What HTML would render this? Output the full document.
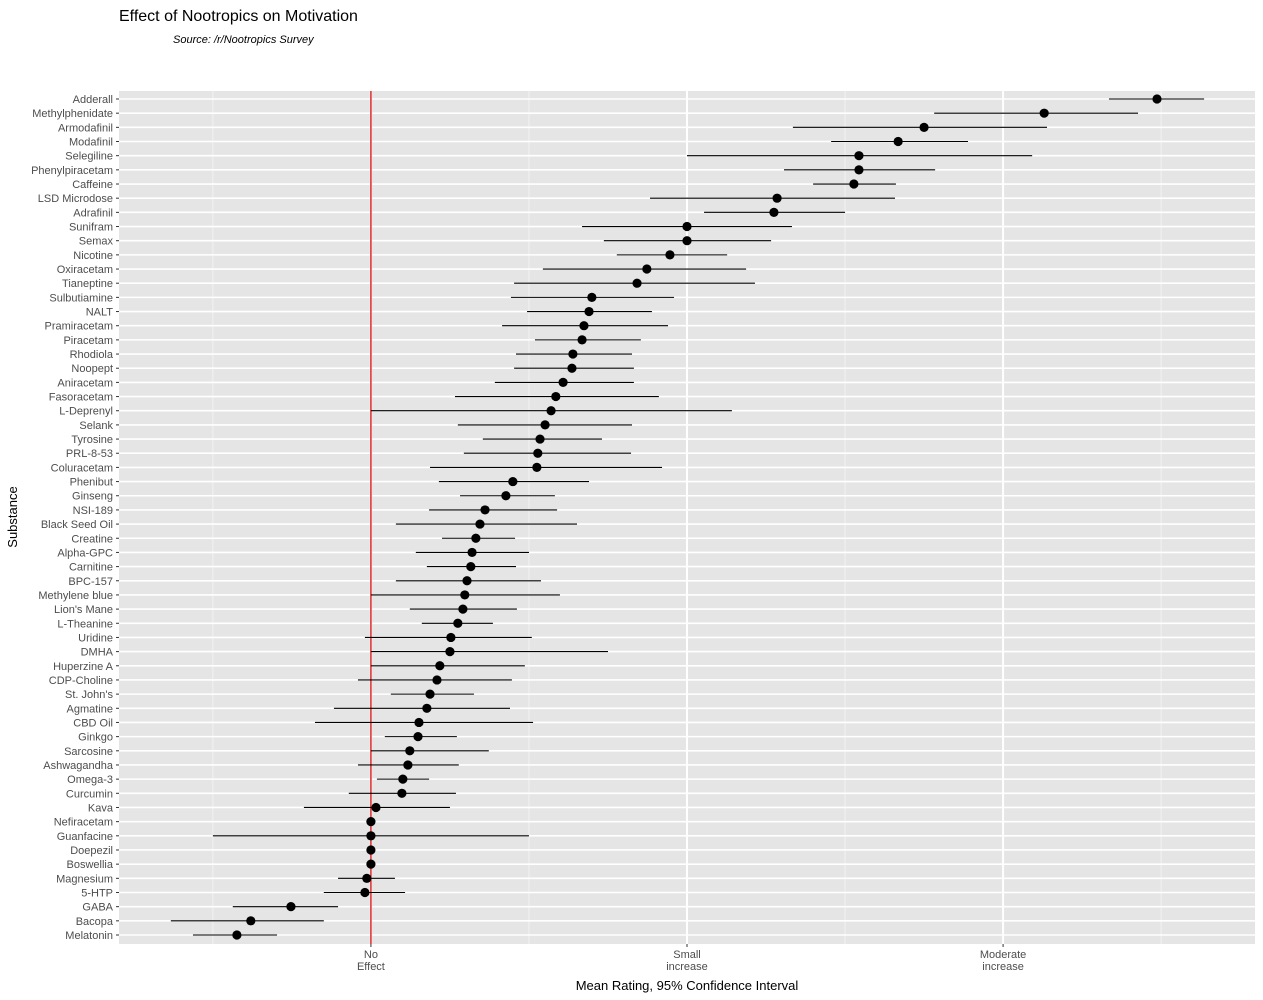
<!DOCTYPE html>
<html><head><meta charset="utf-8"><style>
html,body{margin:0;padding:0;background:#fff;}
svg{display:block;font-family:"Liberation Sans",Arial,sans-serif;}
</style></head><body>
<svg id="chart" width="1263" height="1000" viewBox="0 0 1263 1000">
<text x="119" y="21" font-size="16" fill="#000">Effect of Nootropics on Motivation</text>
<text x="173" y="43" font-size="11" font-style="italic" fill="#000">Source: /r/Nootropics Survey</text>
<rect x="119" y="91" width="1136" height="853" fill="#e5e5e5"/>
<g id="grid"></g>
<g id="marks"></g>
<g id="yaxis"></g>
<g id="xaxis"></g>
<text x="0" y="0" font-size="13" text-anchor="middle" transform="translate(17,517) rotate(-90)">Substance</text>
<text x="687" y="990" font-size="13" text-anchor="middle">Mean Rating, 95% Confidence Interval</text>
</svg>
<script>
const substances = ["Adderall","Methylphenidate","Armodafinil","Modafinil","Selegiline","Phenylpiracetam","Caffeine","LSD Microdose","Adrafinil","Sunifram","Semax","Nicotine","Oxiracetam","Tianeptine","Sulbutiamine","NALT","Pramiracetam","Piracetam","Rhodiola","Noopept","Aniracetam","Fasoracetam","L-Deprenyl","Selank","Tyrosine","PRL-8-53","Coluracetam","Phenibut","Ginseng","NSI-189","Black Seed Oil","Creatine","Alpha-GPC","Carnitine","BPC-157","Methylene blue","Lion's Mane","L-Theanine","Uridine","DMHA","Huperzine A","CDP-Choline","St. John's","Agmatine","CBD Oil","Ginkgo","Sarcosine","Ashwagandha","Omega-3","Curcumin","Kava","Nefiracetam","Guanfacine","Doepezil","Boswellia","Magnesium","5-HTP","GABA","Bacopa","Melatonin"];
const means = [2.487,2.130,1.750,1.668,1.544,1.544,1.528,1.285,1.275,1.0,1.0,0.946,0.873,0.842,0.699,0.690,0.674,0.668,0.639,0.636,0.608,0.585,0.570,0.551,0.535,0.528,0.525,0.449,0.427,0.361,0.345,0.332,0.320,0.316,0.304,0.297,0.291,0.275,0.253,0.25,0.218,0.209,0.187,0.177,0.152,0.149,0.123,0.117,0.101,0.098,0.016,0,0,0,0,-0.013,-0.019,-0.253,-0.380,-0.424];
const lowers = [2.335,1.782,1.335,1.456,1.0,1.307,1.399,0.883,1.054,0.668,0.737,0.778,0.544,0.453,0.443,0.494,0.415,0.519,0.459,0.453,0.392,0.266,0,0.275,0.354,0.294,0.187,0.215,0.282,0.184,0.079,0.225,0.142,0.177,0.079,0,0.123,0.161,-0.019,0,0,-0.041,0.063,-0.117,-0.177,0.044,0,-0.041,0.019,-0.070,-0.212,0,-0.5,0,0,-0.104,-0.149,-0.437,-0.633,-0.563];
const uppers = [2.636,2.427,2.139,1.889,2.092,1.785,1.661,1.658,1.5,1.332,1.266,1.127,1.187,1.215,0.959,0.889,0.940,0.854,0.826,0.832,0.832,0.911,1.142,0.826,0.731,0.823,0.921,0.690,0.582,0.589,0.652,0.456,0.5,0.459,0.538,0.598,0.462,0.386,0.509,0.75,0.487,0.446,0.326,0.440,0.513,0.272,0.373,0.278,0.184,0.269,0.25,0,0.5,0,0,0.076,0.108,-0.104,-0.149,-0.297];
const xTickValues = [0,1,2];
const xTickLabels = [["No","Effect"],["Small","increase"],["Moderate","increase"]];
const xMinorValues = [-0.5,0.5,1.5,2.5];

const NS="http://www.w3.org/2000/svg";
const PL=119, PR=1255, PT=91, PB=944;
const xMin=-0.797, xMax=2.797;
function xs(v){return PL+(v-xMin)/(xMax-xMin)*(PR-PL);}
const yTop=99, yBot=935;
function ys(i){return yTop+i*(yBot-yTop)/(substances.length-1);}
function mk(tag,attrs,parent){const e=document.createElementNS(NS,tag);for(const k in attrs)e.setAttribute(k,attrs[k]);parent.appendChild(e);return e;}
const grid=document.getElementById('grid'), marks=document.getElementById('marks'), yax=document.getElementById('yaxis'), xax=document.getElementById('xaxis');

xMinorValues.forEach(v=>{
  const l=mk('line',{x1:xs(v),x2:xs(v),y1:PT,y2:PB,stroke:'#f2f2f2','stroke-width':1},grid);
  
  
});
xTickValues.forEach(v=>{
  const l=mk('line',{x1:xs(v),x2:xs(v),y1:PT,y2:PB,stroke:'#fff','stroke-width':2},grid);
  
  
});
substances.forEach((s,i)=>{
  const l=mk('line',{x1:PL,x2:PR,y1:ys(i),y2:ys(i),stroke:'#fff','stroke-width':1.6},grid);
  
  
});
const zero=mk('line',{x1:xs(0),x2:xs(0),y1:PT,y2:PB,stroke:'#d7191c','stroke-width':1.4},grid);



substances.forEach((s,i)=>{
  const y=ys(i);
  const ci=mk('line',{x1:xs(lowers[i]),x2:xs(uppers[i]),y1:y,y2:y,stroke:'#000','stroke-width':1.1},marks);
  
  
  const p=mk('circle',{cx:xs(means[i]),cy:y,r:4.6,fill:'#000'},marks);
  
  
  const t=mk('line',{x1:PL-3,x2:PL,y1:y,y2:y,stroke:'#333','stroke-width':1},yax);
  
  
  const lab=mk('text',{x:PL-6,y:y+4,'font-size':11,'text-anchor':'end',fill:'#4d4d4d'},yax);
  lab.textContent=s;
  
  
});
xTickValues.forEach((v,i)=>{
  const t=mk('line',{x1:xs(v),x2:xs(v),y1:PB,y2:PB+3,stroke:'#333','stroke-width':1},xax);
  
  
  xTickLabels[i].forEach((str,j)=>{
    const lab=mk('text',{x:xs(v),y:PB+14+j*12,'font-size':11,'text-anchor':'middle',fill:'#4d4d4d'},xax);
    lab.textContent=str;
    
    
  });
});
</script>
</body></html>
